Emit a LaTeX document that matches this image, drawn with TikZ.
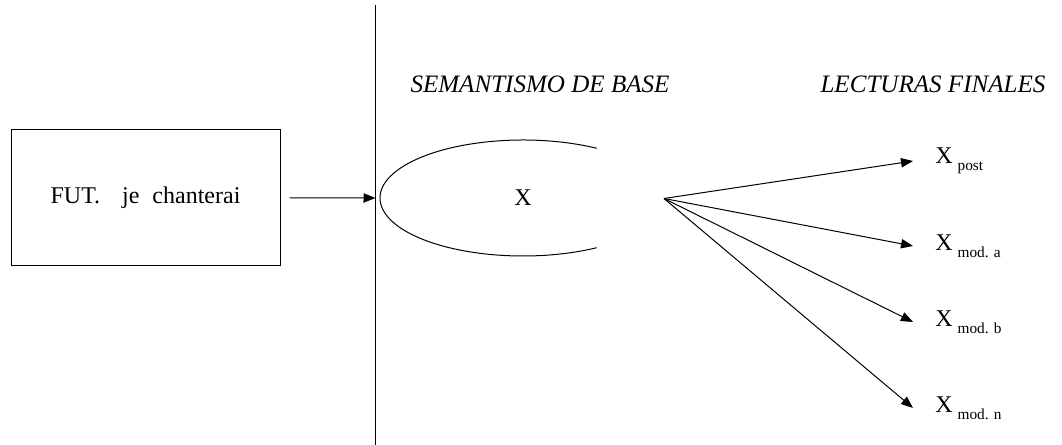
\documentclass[tikz,border=0pt]{standalone}
\usepackage{fontspec}
\setmainfont{Liberation Serif}
\usepackage{tikz}
\usetikzlibrary{arrows.meta,positioning}
\tikzset{
  >={Triangle[length=9pt,width=7pt]},
  every node/.style={font=\fontsize{18}{21}\selectfont,text=black},
  frame/.style={draw,line width=0.75pt,minimum width=201.75pt,minimum height=101.25pt,inner sep=0pt},
  heading/.style={font=\fontsize{18.8}{22}\selectfont\itshape,anchor=base},
  reading/.style={inner sep=0pt,anchor=west},
  arrow/.style={->,line width=0.75pt,draw=black}
}
\newcommand{\lect}[1]{X\hspace{3.75pt}\raisebox{-5pt}{\fontsize{11.5}{13}\selectfont #1}}
\begin{document}
\begin{tikzpicture}[x=0.75pt,y=-0.75pt]
  \useasboundingbox (0,0) rectangle (1062,445);
  % left box and the cut line
  \node[frame] (fut) at (145.5,197.5) {FUT.\hspace{16.5pt}je\hspace{9.75pt}chanterai};
  \coordinate (top) at (375.5,5);
  \coordinate (bot) at (375.5,445);
  \draw[line width=0.75pt] (top) -- (bot);
  \coordinate (in) at (375.5,198);
  \draw[arrow,shorten <=6.75pt] (fut) -- (in);
  % base meaning
  \node[heading] (sem) at (540,93) {SEMANTISMO DE BASE};
  \node[heading] (lec) at (933,93) {LECTURAS FINALES};
  \node (x) at (523,198) {X};
  \draw[line width=0.75pt] ([shift={(59:107.25pt and 43.5pt)}]x.center)
    arc[start angle=59,end angle=301,x radius=107.25pt,y radius=43.5pt];
  % final readings
  \coordinate (fan) at (664,198.5);
  \coordinate (t1) at (913,161);
  \coordinate (t2) at (913,246);
  \coordinate (t3) at (913,322);
  \coordinate (t4) at (913,408);
  \node[reading,right=16.5pt of t1] (post) {\lect{post}};
  \node[reading,right=16.5pt of t2] (moda) {\lect{mod. a}};
  \node[reading,right=16.5pt of t3] (modb) {\lect{mod. b}};
  \node[reading,right=16.5pt of t4] (modn) {\lect{mod. n}};
  \foreach \t in {t1,t2,t3,t4}
    \draw[arrow] (fan) -- (\t);
\end{tikzpicture}
\end{document}
